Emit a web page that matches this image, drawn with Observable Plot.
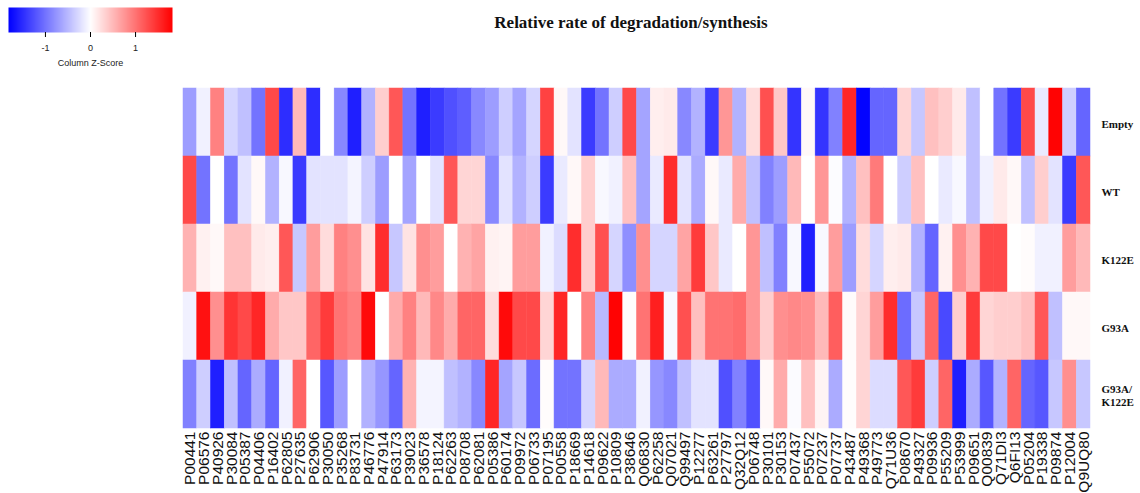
<!DOCTYPE html>
<html><head><meta charset="utf-8">
<script src="https://cdn.jsdelivr.net/npm/d3@7"></script>
<script src="https://cdn.jsdelivr.net/npm/@observablehq/plot@0.6"></script>
<style>
body{margin:0;background:#fff}
#wrap{position:relative;width:1140px;height:493px;overflow:hidden;background:#fff}
#legend{position:absolute;left:0;top:0}
</style>
</head><body><div id="wrap"><div id="main"></div><div id="legend"></div></div>
<script>
const titleText = "Relative rate of degradation/synthesis";
const legendLabel = "Column Z-Score";
const legendTicks = [-1, 0, 1];

const proteins = ["P00441","P06576","P40926","P30084","P05387","P04406","P16402","P62805","P27635","P62906",
"P30050","P35268","P83731","P46776","P47914","P63173","P39023","P36578","P18124","P62263",
"P08708","P62081","P05386","P60174","P09972","P06733","P07195","P00558","P18669","P14618",
"P09622","P10809","P38646","Q06830","P62258","Q07021","Q99497","P12277","P63261","P27797",
"Q32Q12","P06748","P30101","P30153","P07437","P55072","P07237","P07737","P43487","P49368",
"P49773","Q71U36","P08670","P49327","P09936","P55209","P53999","P09651","Q00839","Q71DI3",
"Q6FI13","P05204","P19338","P09874","P12004","Q9UQ80"];

const conditions = ["Empty","WT","K122E","G93A","G93A/\nK122E"];

const emptyZ = [-0.7,-0.1,0.9,-0.3,-0.45,-1.0,1.3,-1.5,0.5,-1.5,
0.0,-0.85,-1.6,-0.55,0.35,1.2,-1.0,-1.6,-1.4,-1.25,
-1.15,-0.85,-0.7,-0.35,-0.65,-0.3,1.35,0.05,-0.2,-1.4,
-1.0,-0.35,1.3,-0.65,0.12,0.15,-0.85,-0.55,-1.4,0.75,
-0.55,0.25,1.25,0.4,-1.45,0.05,-1.45,-0.9,1.55,-1.8,
-1.1,-1.1,0.3,-0.4,0.45,0.35,0.15,-0.45,0.0,-1.0,
-1.4,1.3,-0.15,1.8,-0.35,-1.1];

const wtZ = [1.3,-1.0,0.0,-1.0,-0.2,0.05,-0.55,-0.05,-1.4,-0.2,
-0.2,-0.2,-0.08,-0.35,-0.7,0.0,-0.65,0.0,-0.2,1.2,
0.3,0.3,-0.85,-0.2,-0.55,-0.35,-1.4,-0.15,0.05,0.35,
-0.05,-0.1,0.45,-0.65,-0.15,1.5,-0.2,-0.6,0.05,-0.15,
0.6,-0.45,-0.9,-0.7,0.5,0.0,0.75,-0.02,-0.55,0.45,
0.95,0.0,-0.35,0.45,0.0,-0.15,-0.05,-0.45,-0.1,0.15,
0.05,-0.45,0.35,-0.2,-1.4,1.2];

const k122eZ = [0.55,0.1,0.05,0.45,0.45,0.15,0.12,1.2,-0.4,0.7,
0.25,0.9,0.8,0.2,1.5,-0.4,0.2,0.8,0.7,0.0,
0.55,0.65,0.1,0.08,0.7,0.7,-0.1,-0.25,1.5,0.35,
1.25,-0.3,-0.8,0.8,-0.3,-0.3,0.65,1.4,0.4,-0.15,
0.0,0.75,-0.45,-0.9,-0.05,-1.6,-0.05,0.7,-0.7,0.25,
-0.3,0.12,0.15,-0.55,-1.1,0.1,0.8,0.55,1.3,1.3,
0.0,0.02,-0.1,-0.1,0.7,0.5];

const g93aZ = [-0.1,1.7,0.8,1.45,1.3,1.55,0.6,0.4,0.4,1.1,
1.4,1.0,0.9,1.75,0.0,0.6,0.9,0.5,0.85,0.6,
1.1,1.1,0.25,1.75,1.3,1.3,0.3,1.55,0.0,0.9,
-0.5,1.8,0.02,1.0,1.6,-0.05,1.25,0.45,1.0,1.0,
1.05,0.75,0.35,0.8,0.85,0.8,0.5,1.15,0.03,0.3,
0.7,1.5,-1.05,-0.4,1.1,-1.3,0.35,1.4,0.3,0.35,
0.35,0.45,1.2,-0.45,0.05,0.05];

const g93aK122eZ = [-0.9,-0.35,-1.6,-0.45,-1.1,-0.6,-1.1,-0.1,1.1,0.0,
-1.2,-0.7,0.0,-0.55,-0.75,-1.1,0.55,-0.08,-0.08,-0.45,
-0.55,-0.85,1.55,-0.65,-0.4,-1.05,0.02,-1.0,-1.0,-0.3,
0.5,-0.6,-0.6,-0.1,-0.75,-0.85,-0.45,-0.2,-0.2,-1.25,
-0.9,-1.25,0.05,0.6,-0.03,0.45,0.08,-0.6,0.02,0.3,
-0.25,-0.25,1.2,1.4,-0.35,1.1,-1.6,-0.6,-1.2,-0.55,
1.1,-1.1,-1.2,-0.4,0.8,-0.4];

const series = [emptyZ, wtZ, k122eZ, g93aZ, g93aK122eZ];
const cells = [];
conditions.forEach((c, i) => series[i].forEach((v, j) => cells.push({protein: proteins[j], condition: c, z: v})));

const colorOpts = {type: "linear", domain: [-1.82, 0, 1.82], range: ["#0000ff", "#ffffff", "#ff0000"], interpolate: "rgb", clamp: true};

const main = Plot.plot({
  width: 1140, height: 493,
  marginLeft: 183, marginRight: 50, marginTop: 87, marginBottom: 65,
  style: {fontFamily: "Liberation Sans", background: "white"},
  x: {domain: proteins, padding: 0},
  y: {domain: conditions, padding: 0, axis: null},
  color: colorOpts,
  marks: [
    Plot.cell(cells, {x: "protein", y: "condition", fill: "z", stroke: "z", strokeWidth: 0.5, inset: 0}),
    Plot.axisX({anchor: "bottom", tickRotate: -90, tickSize: 0, tickPadding: 3, fontSize: 15.5, label: null, fill: "#111"}),
    Plot.text(conditions, {y: d => d, frameAnchor: "right", dx: 11, dy: 1, textAnchor: "start", lineAnchor: "middle",
      fontSize: 11, fontWeight: "bold", fontFamily: "Liberation Serif", lineHeight: 1.2, fill: "#111"}),
    Plot.text([titleText], {frameAnchor: "top", dy: -65, dx: -6, lineAnchor: "middle", fontSize: 17, fontWeight: "bold", fontFamily: "Liberation Serif", fill: "#111"})
  ]
});
document.getElementById("main").appendChild(main);

const legend = Plot.plot({
  width: 200, height: 80,
  marginLeft: 8, marginRight: 28, marginTop: 7, marginBottom: 48,
  style: {fontFamily: "Liberation Sans", background: "transparent", overflow: "visible"},
  x: {domain: [-1.82, 1.82]},
  y: {domain: [0, 1], axis: null},
  color: colorOpts,
  marks: [
    Plot.raster({x1: -1.82, x2: 1.82, y1: 0, y2: 1, fill: (x, y) => x, width: 164, height: 1, imageRendering: "auto"}),
    Plot.axisX({ticks: legendTicks, tickSize: 5, tickPadding: 7, fontSize: 9, tickFormat: d => String(d), label: null, fill: "#222"}),
    Plot.text([legendLabel], {frameAnchor: "bottom", dy: 31, lineAnchor: "middle", fontSize: 9, fill: "#222"})
  ]
});
document.getElementById("legend").appendChild(legend);
</script>
</body></html>
